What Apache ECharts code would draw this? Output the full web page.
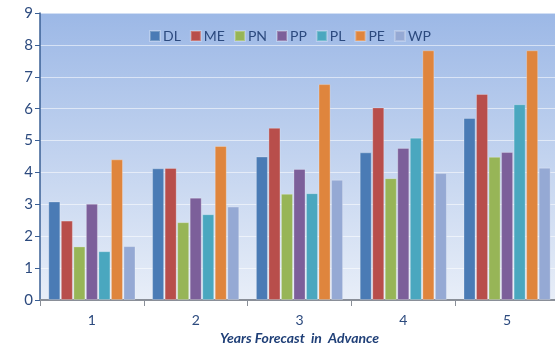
<!DOCTYPE html>
<html>
<head>
<meta charset="utf-8">
<script src="https://cdn.jsdelivr.net/npm/echarts@6/dist/echarts.min.js"></script>
<style>
  html, body { margin: 0; padding: 0; background: #ffffff; }
  #chart { width: 555px; height: 343px; }
</style>
</head>
<body>
<div id="chart"></div>
<script>
// Forecast horizons (years ahead)
const years = ['1', '2', '3', '4', '5'];

// Values per group, one entry per horizon
const DL = [3.09, 4.13, 4.50, 4.63, 5.71];
const ME = [2.49, 4.14, 5.40, 6.04, 6.46];
const PN = [1.68, 2.44, 3.33, 3.82, 4.49];
const PP = [3.02, 3.21, 4.11, 4.77, 4.64];
const PL = [1.53, 2.69, 3.35, 5.09, 6.14];
const PE = [4.41, 4.83, 6.77, 7.83, 7.83];
const WP = [1.69, 2.93, 3.77, 3.98, 4.15];

const seriesNames = ['DL', 'ME', 'PN', 'PP', 'PL', 'PE', 'WP'];
const seriesData = [DL, ME, PN, PP, PL, PE, WP];
const palette = ['#4a7bb5', '#b84e4b', '#97b557', '#7c5f9a', '#4aa7bf', '#df853d', '#95a9d4'];

const textBlue = '#2c4a7e';

const chart = echarts.init(document.getElementById('chart'), null, { renderer: 'canvas' });

chart.setOption({
  animation: false,
  color: palette,
  textStyle: { fontFamily: 'Lato, Noto Sans, sans-serif' },
  legend: {
    data: seriesNames,
    top: 24,
    left: 144,
    itemWidth: 10,
    itemHeight: 10,
    itemGap: 9,
    icon: 'rect',
    textStyle: { color: textBlue, fontSize: 14, padding: [0, 0, 0, -2] }
  },
  grid: {
    left: 40,
    right: -4,
    top: 13,
    bottom: 43,
    outerBoundsMode: 'none',
    containLabel: false,
    show: true,
    borderWidth: 0,
    backgroundColor: {
      type: 'linear', x: 0, y: 0, x2: 0, y2: 1,
      colorStops: [
        { offset: 0, color: '#9cb8e6' },
        { offset: 1, color: '#e8eef8' }
      ]
    }
  },
  xAxis: {
    type: 'category',
    data: years,
    name: 'Years Forecast  in  Advance',
    nameLocation: 'middle',
    nameGap: 27,
    nameTextStyle: { color: '#1f3f77', fontSize: 14, fontWeight: 'bold', fontStyle: 'italic' },
    axisLine: { lineStyle: { color: '#8a8f98', width: 2 } },
    axisTick: { show: true, length: 6, lineStyle: { color: '#8a8f98', width: 1 } },
    axisLabel: { color: textBlue, fontSize: 14, margin: 13 }
  },
  yAxis: {
    type: 'value',
    min: 0,
    max: 9,
    interval: 1,
    axisLine: { show: true, lineStyle: { color: '#3a5f95', width: 1.5 } },
    axisTick: { show: true, length: 5, lineStyle: { color: '#3a5f95' } },
    axisLabel: { color: textBlue, fontSize: 15, margin: 7 },
    splitLine: { lineStyle: { color: 'rgba(255,255,255,0.55)', width: 1 } }
  },
  series: seriesNames.map((name, i) => ({
    name: name,
    type: 'bar',
    data: seriesData[i],
    barCategoryGap: '16%',
    barGap: '4%',
    itemStyle: { borderColor: 'rgba(255,255,255,0.25)', borderWidth: 1 }
  }))
});
</script>
</body>
</html>
